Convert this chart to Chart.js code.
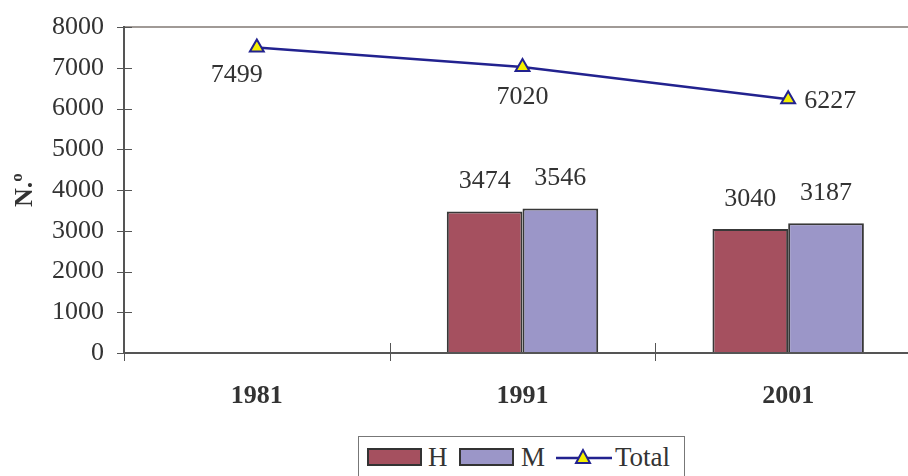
<!DOCTYPE html>
<html>
<head>
  <meta charset="utf-8">
  <title>N.º 1981-2001</title>
  <script src="https://cdn.jsdelivr.net/npm/chart.js"></script>
  <style>
    body {
      margin: 0;
      background: #ffffff;
      overflow: hidden;
      width: 908px;
      height: 476px;
      position: relative;
      font-family: 'Liberation Serif', 'Times New Roman', serif;
    }
    .wrap {
      position: absolute;
      left: 0;
      top: 0;
      width: 940px;
      height: 430px;
    }
    .legend {
      position: absolute;
      left: 358px;
      top: 436px;
      width: 327px;
      height: 60px;
      border: 1px solid #777;
      box-sizing: border-box;
      font-size: 27px;
      line-height: 27px;
      color: #333;
    }
    .legend > * { position: absolute; }
    .legend .txt { top: 7px; }
    .sw {
      top: 11px;
      width: 55px;
      height: 18px;
      border: 2px solid #333;
      box-sizing: border-box;
    }
  </style>
</head>
<body>

  <div class="wrap"><canvas id="chart"></canvas></div>

  <!-- legenda -->
  <div class="legend">
    <span class="sw" style="left:8px; background:#a5505f"></span>
    <span class="txt" style="left:69px">H</span>
    <span class="sw" style="left:100px; background:#9b96c8"></span>
    <span class="txt" style="left:162px">M</span>
    <svg style="left:197px; top:8px" width="56" height="26"><line x1="0" y1="13" x2="56" y2="13" stroke="#22228f" stroke-width="2.5"/><polygon points="27,5 20,18 34,18" fill="#f5f000" stroke="#22228f" stroke-width="2"/></svg>
    <span class="txt" style="left:256px">Total</span>
  </div>

  <script>
    // dados
    const anos = ['1981', '1991', '2001'];
    const homens = [null, 3474, 3040];
    const mulheres = [null, 3546, 3187];
    const total = [7499, 7020, 6227];
    const yTicks = [0, 1000, 2000, 3000, 4000, 5000, 6000, 7000, 8000];

    const FONT = "'Liberation Serif', 'Times New Roman', serif";

    // rotulos de valores
    const valueLabels = {
      id: 'valueLabels',
      afterDatasetsDraw(chart) {
        const ctx = chart.ctx;
        ctx.save();
        ctx.font = '26px ' + FONT;
        ctx.fillStyle = '#333';
        ctx.textBaseline = 'middle';
        chart.data.datasets.forEach((ds, i) => {
          const meta = chart.getDatasetMeta(i);
          meta.data.forEach((el, j) => {
            const v = ds.data[j];
            if (v === null) return;
            let x = el.x, y = el.y;
            ctx.textAlign = 'center';
            if (ds.type === 'line') {
              if (j === 0) { x -= 20; y += 28; }
              else if (j === 1) { y += 30; }
              else { ctx.textAlign = 'left'; x += 16; y += 2; }
            } else {
              y -= 30;
            }
            ctx.fillText(String(v), x, y);
          });
        });
        ctx.restore();
      }
    };

    // marcas dos eixos que cruzam a linha
    const crossTicks = {
      id: 'crossTicks',
      afterDraw(chart) {
        const ctx = chart.ctx;
        const ys = chart.scales.y;
        const a = chart.chartArea;
        ctx.save();
        ctx.strokeStyle = '#555';
        ctx.lineWidth = 1;
        ctx.beginPath();
        yTicks.forEach(v => {
          const y = Math.round(ys.getPixelForValue(v)) + 0.5;
          ctx.moveTo(a.left - 7, y);
          ctx.lineTo(a.left + 8, y);
        });
        for (let i = 0; i <= anos.length; i++) {
          const x = Math.round(a.left + (a.right - a.left) * i / anos.length) + 0.5;
          ctx.moveTo(x, a.bottom - 10);
          ctx.lineTo(x, a.bottom + 8);
        }
        ctx.stroke();
        ctx.restore();
      }
    };

    new Chart(document.getElementById('chart'), {
      data: {
        labels: anos,
        datasets: [
          {
            type: 'line',
            label: 'Total',
            data: total,
            borderColor: '#22228f',
            borderWidth: 2.5,
            pointStyle: 'triangle',
            pointRadius: 8,
            pointBackgroundColor: '#f5f000',
            pointBorderColor: '#22228f',
            pointBorderWidth: 2,
            tension: 0,
            order: 0
          },
          {
            type: 'bar',
            label: 'H',
            data: homens,
            backgroundColor: '#a5505f',
            borderColor: '#383838',
            borderWidth: 2,
            order: 1
          },
          {
            type: 'bar',
            label: 'M',
            data: mulheres,
            backgroundColor: '#9b96c8',
            borderColor: '#383838',
            borderWidth: 2,
            order: 1
          }
        ]
      },
      options: {
        responsive: true,
        maintainAspectRatio: false,
        animation: false,
        layout: { padding: { top: 27, right: 19, left: 0, bottom: 0 } },
        datasets: { bar: { categoryPercentage: 0.57, barPercentage: 1 } },
        plugins: {
          legend: { display: false },
          tooltip: { enabled: false }
        },
        scales: {
          x: {
            offset: true,
            grid: { display: false, offset: true },
            border: { color: '#555', width: 2 },
            ticks: {
              color: '#333',
              padding: 20,
              font: { family: FONT, size: 26, weight: 'bold' }
            },
            afterFit(s) { s.height = 77; }
          },
          y: {
            min: 0,
            max: 8000,
            grid: {
              drawTicks: false,
              color: c => c.tick.value === 8000 ? '#a09a96' : 'transparent',
              lineWidth: 2
            },
            border: { color: '#555', width: 2 },
            ticks: {
              stepSize: 1000,
              color: '#333',
              padding: 20,
              font: { family: FONT, size: 26 },
              callback: v => String(v)
            },
            title: {
              display: true,
              text: 'N.º',
              color: '#333',
              padding: { top: 10, bottom: 0 },
              font: { family: FONT, size: 26, weight: 'bold' }
            },
            afterFit(s) {
              s.width = 124;
              s.paddingTop = 0;
              s.paddingBottom = 0;
            }
          }
        }
      },
      plugins: [valueLabels, crossTicks]
    });
  </script>
</body>
</html>
